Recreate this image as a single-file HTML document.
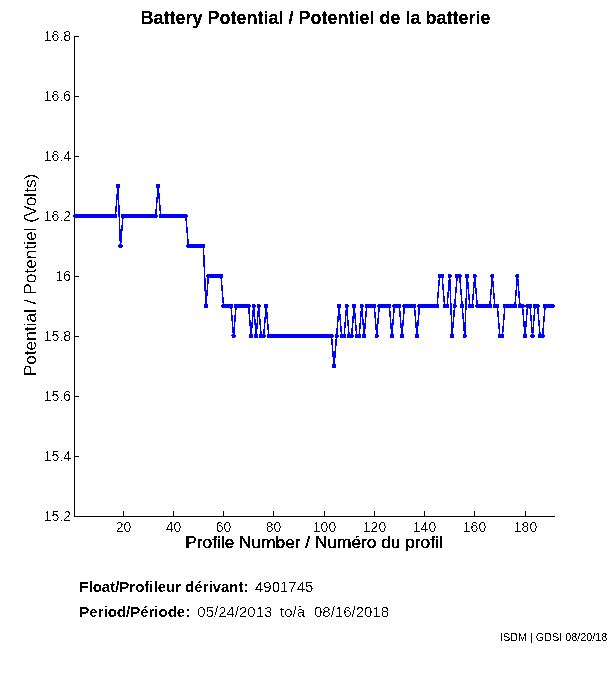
<!DOCTYPE html>
<html><head><meta charset="utf-8"><title>Battery Potential</title>
<style>
html,body{margin:0;padding:0;background:#fff;}
body{width:611px;height:675px;overflow:hidden;}
svg{display:block;will-change:transform;}
text{font-family:"Liberation Sans",sans-serif;fill:#000;}
.t{font-size:18px;font-weight:bold;}
.tk{font-size:14px;}
.lb{font-size:17.3px;}
.ft{font-size:15px;}
.ftb{font-size:15px;font-weight:bold;}
.sm{font-size:10.8px;}
</style></head>
<body>
<svg width="611" height="675" viewBox="0 0 611 675">
<defs><filter id="cr" x="-800" y="-800" width="2400" height="2400" filterUnits="userSpaceOnUse"><feComponentTransfer><feFuncA type="discrete" tableValues="0 1"/></feComponentTransfer></filter><filter id="cl" x="-800" y="-800" width="2400" height="2400" filterUnits="userSpaceOnUse"><feComponentTransfer><feFuncA type="discrete" tableValues="0 1 1 1"/></feComponentTransfer></filter><filter id="ck" x="-800" y="-800" width="2400" height="2400" filterUnits="userSpaceOnUse"><feComponentTransfer><feFuncA type="discrete" tableValues="0 0 0 1 1"/></feComponentTransfer></filter><filter id="ct" x="-800" y="-800" width="2400" height="2400" filterUnits="userSpaceOnUse"><feComponentTransfer><feFuncA type="discrete" tableValues="0 1 1"/></feComponentTransfer></filter></defs>
<rect x="0" y="0" width="611" height="675" fill="#fff"/>
<text filter="url(#ct)" class="t" x="315.5" y="24" text-anchor="middle">Battery Potential / Potentiel de la batterie</text>
<g fill="#000" shape-rendering="crispEdges">
<rect x="74" y="36" width="1" height="481"/>
<rect x="74" y="516" width="481" height="1"/>
<rect x="75" y="36" width="4" height="1"/><rect x="75" y="96" width="4" height="1"/><rect x="75" y="156" width="4" height="1"/><rect x="75" y="216" width="4" height="1"/><rect x="75" y="276" width="4" height="1"/><rect x="75" y="336" width="4" height="1"/><rect x="75" y="396" width="4" height="1"/><rect x="75" y="456" width="4" height="1"/><rect x="75" y="516" width="4" height="1"/><rect x="123" y="511" width="1" height="5"/><rect x="173" y="511" width="1" height="5"/><rect x="223" y="511" width="1" height="5"/><rect x="273" y="511" width="1" height="5"/><rect x="324" y="511" width="1" height="5"/><rect x="374" y="511" width="1" height="5"/><rect x="424" y="511" width="1" height="5"/><rect x="474" y="511" width="1" height="5"/><rect x="525" y="511" width="1" height="5"/>
</g>
<g class="tk"><text filter="url(#ck)" x="71" y="41" text-anchor="end">16.8</text><text filter="url(#ck)" x="71" y="101" text-anchor="end">16.6</text><text filter="url(#ck)" x="71" y="161" text-anchor="end">16.4</text><text filter="url(#ck)" x="71" y="221" text-anchor="end">16.2</text><text filter="url(#ck)" x="71" y="281" text-anchor="end">16</text><text filter="url(#ck)" x="71" y="341" text-anchor="end">15.8</text><text filter="url(#ck)" x="71" y="401" text-anchor="end">15.6</text><text filter="url(#ck)" x="71" y="461" text-anchor="end">15.4</text><text filter="url(#ck)" x="71" y="521" text-anchor="end">15.2</text><text filter="url(#ck)" x="123.5" y="532" text-anchor="middle">20</text><text filter="url(#ck)" x="173.5" y="532" text-anchor="middle">40</text><text filter="url(#ck)" x="223.5" y="532" text-anchor="middle">60</text><text filter="url(#ck)" x="273.5" y="532" text-anchor="middle">80</text><text filter="url(#ck)" x="324.5" y="532" text-anchor="middle">100</text><text filter="url(#ck)" x="374.5" y="532" text-anchor="middle">120</text><text filter="url(#ck)" x="424.5" y="532" text-anchor="middle">140</text><text filter="url(#ck)" x="474.5" y="532" text-anchor="middle">160</text><text filter="url(#ck)" x="525.5" y="532" text-anchor="middle">180</text></g>
<g shape-rendering="crispEdges">
<polyline points="75.26,216.0 77.78,216.0 80.29,216.0 82.80,216.0 85.31,216.0 87.83,216.0 90.34,216.0 92.85,216.0 95.36,216.0 97.88,216.0 100.39,216.0 102.90,216.0 105.41,216.0 107.93,216.0 110.44,216.0 112.95,216.0 115.46,216.0 117.97,186.0 120.49,246.0 123.00,216.0 125.51,216.0 128.03,216.0 130.54,216.0 133.05,216.0 135.56,216.0 138.07,216.0 140.59,216.0 143.10,216.0 145.61,216.0 148.12,216.0 150.64,216.0 153.15,216.0 155.66,216.0 158.18,186.0 160.69,216.0 163.20,216.0 165.71,216.0 168.23,216.0 170.74,216.0 173.25,216.0 175.76,216.0 178.28,216.0 180.79,216.0 183.30,216.0 185.81,216.0 188.32,246.0 190.84,246.0 193.35,246.0 195.86,246.0 198.38,246.0 200.89,246.0 203.40,246.0 205.91,306.0 208.43,276.0 210.94,276.0 213.45,276.0 215.96,276.0 218.48,276.0 220.99,276.0 223.50,306.0 226.01,306.0 228.53,306.0 231.04,306.0 233.55,336.0 236.06,306.0 238.58,306.0 241.09,306.0 243.60,306.0 246.11,306.0 248.62,306.0 251.14,336.0 253.65,306.0 256.16,336.0 258.68,306.0 261.19,336.0 263.70,336.0 266.21,306.0 268.73,336.0 271.24,336.0 273.75,336.0 276.26,336.0 278.77,336.0 281.29,336.0 283.80,336.0 286.31,336.0 288.83,336.0 291.34,336.0 293.85,336.0 296.36,336.0 298.88,336.0 301.39,336.0 303.90,336.0 306.41,336.0 308.93,336.0 311.44,336.0 313.95,336.0 316.46,336.0 318.98,336.0 321.49,336.0 324.00,336.0 326.51,336.0 329.03,336.0 331.54,336.0 334.05,366.0 336.56,336.0 339.08,306.0 341.59,336.0 344.10,336.0 346.61,306.0 349.12,336.0 351.64,336.0 354.15,306.0 356.66,336.0 359.18,336.0 361.69,306.0 364.20,336.0 366.71,306.0 369.23,306.0 371.74,306.0 374.25,306.0 376.76,336.0 379.28,306.0 381.79,306.0 384.30,306.0 386.81,306.0 389.33,306.0 391.84,336.0 394.35,306.0 396.86,306.0 399.38,306.0 401.89,336.0 404.40,306.0 406.91,306.0 409.43,306.0 411.94,306.0 414.45,306.0 416.96,336.0 419.48,306.0 421.99,306.0 424.50,306.0 427.01,306.0 429.53,306.0 432.04,306.0 434.55,306.0 437.06,306.0 439.58,276.0 442.09,276.0 444.60,306.0 447.11,306.0 449.62,276.0 452.14,336.0 454.65,306.0 457.16,276.0 459.68,276.0 462.19,306.0 464.70,336.0 467.21,276.0 469.73,306.0 472.24,306.0 474.75,276.0 477.26,306.0 479.78,306.0 482.29,306.0 484.80,306.0 487.31,306.0 489.83,306.0 492.34,276.0 494.85,306.0 497.36,306.0 499.88,336.0 502.39,336.0 504.90,306.0 507.41,306.0 509.93,306.0 512.44,306.0 514.95,306.0 517.46,276.0 519.98,306.0 522.49,306.0 525.00,336.0 527.51,306.0 530.03,306.0 532.54,336.0 535.05,306.0 537.56,306.0 540.08,336.0 542.59,336.0 545.10,306.0 547.61,306.0 550.12,306.0 552.64,306.0" fill="none" stroke="#0000ff" stroke-width="1.5" stroke-linejoin="miter"/>
<g fill="#0000ff"><circle cx="75.26" cy="216.0" r="2.2"/><circle cx="77.78" cy="216.0" r="2.2"/><circle cx="80.29" cy="216.0" r="2.2"/><circle cx="82.80" cy="216.0" r="2.2"/><circle cx="85.31" cy="216.0" r="2.2"/><circle cx="87.83" cy="216.0" r="2.2"/><circle cx="90.34" cy="216.0" r="2.2"/><circle cx="92.85" cy="216.0" r="2.2"/><circle cx="95.36" cy="216.0" r="2.2"/><circle cx="97.88" cy="216.0" r="2.2"/><circle cx="100.39" cy="216.0" r="2.2"/><circle cx="102.90" cy="216.0" r="2.2"/><circle cx="105.41" cy="216.0" r="2.2"/><circle cx="107.93" cy="216.0" r="2.2"/><circle cx="110.44" cy="216.0" r="2.2"/><circle cx="112.95" cy="216.0" r="2.2"/><circle cx="115.46" cy="216.0" r="2.2"/><circle cx="117.97" cy="186.0" r="2.2"/><circle cx="120.49" cy="246.0" r="2.2"/><circle cx="123.00" cy="216.0" r="2.2"/><circle cx="125.51" cy="216.0" r="2.2"/><circle cx="128.03" cy="216.0" r="2.2"/><circle cx="130.54" cy="216.0" r="2.2"/><circle cx="133.05" cy="216.0" r="2.2"/><circle cx="135.56" cy="216.0" r="2.2"/><circle cx="138.07" cy="216.0" r="2.2"/><circle cx="140.59" cy="216.0" r="2.2"/><circle cx="143.10" cy="216.0" r="2.2"/><circle cx="145.61" cy="216.0" r="2.2"/><circle cx="148.12" cy="216.0" r="2.2"/><circle cx="150.64" cy="216.0" r="2.2"/><circle cx="153.15" cy="216.0" r="2.2"/><circle cx="155.66" cy="216.0" r="2.2"/><circle cx="158.18" cy="186.0" r="2.2"/><circle cx="160.69" cy="216.0" r="2.2"/><circle cx="163.20" cy="216.0" r="2.2"/><circle cx="165.71" cy="216.0" r="2.2"/><circle cx="168.23" cy="216.0" r="2.2"/><circle cx="170.74" cy="216.0" r="2.2"/><circle cx="173.25" cy="216.0" r="2.2"/><circle cx="175.76" cy="216.0" r="2.2"/><circle cx="178.28" cy="216.0" r="2.2"/><circle cx="180.79" cy="216.0" r="2.2"/><circle cx="183.30" cy="216.0" r="2.2"/><circle cx="185.81" cy="216.0" r="2.2"/><circle cx="188.32" cy="246.0" r="2.2"/><circle cx="190.84" cy="246.0" r="2.2"/><circle cx="193.35" cy="246.0" r="2.2"/><circle cx="195.86" cy="246.0" r="2.2"/><circle cx="198.38" cy="246.0" r="2.2"/><circle cx="200.89" cy="246.0" r="2.2"/><circle cx="203.40" cy="246.0" r="2.2"/><circle cx="205.91" cy="306.0" r="2.2"/><circle cx="208.43" cy="276.0" r="2.2"/><circle cx="210.94" cy="276.0" r="2.2"/><circle cx="213.45" cy="276.0" r="2.2"/><circle cx="215.96" cy="276.0" r="2.2"/><circle cx="218.48" cy="276.0" r="2.2"/><circle cx="220.99" cy="276.0" r="2.2"/><circle cx="223.50" cy="306.0" r="2.2"/><circle cx="226.01" cy="306.0" r="2.2"/><circle cx="228.53" cy="306.0" r="2.2"/><circle cx="231.04" cy="306.0" r="2.2"/><circle cx="233.55" cy="336.0" r="2.2"/><circle cx="236.06" cy="306.0" r="2.2"/><circle cx="238.58" cy="306.0" r="2.2"/><circle cx="241.09" cy="306.0" r="2.2"/><circle cx="243.60" cy="306.0" r="2.2"/><circle cx="246.11" cy="306.0" r="2.2"/><circle cx="248.62" cy="306.0" r="2.2"/><circle cx="251.14" cy="336.0" r="2.2"/><circle cx="253.65" cy="306.0" r="2.2"/><circle cx="256.16" cy="336.0" r="2.2"/><circle cx="258.68" cy="306.0" r="2.2"/><circle cx="261.19" cy="336.0" r="2.2"/><circle cx="263.70" cy="336.0" r="2.2"/><circle cx="266.21" cy="306.0" r="2.2"/><circle cx="268.73" cy="336.0" r="2.2"/><circle cx="271.24" cy="336.0" r="2.2"/><circle cx="273.75" cy="336.0" r="2.2"/><circle cx="276.26" cy="336.0" r="2.2"/><circle cx="278.77" cy="336.0" r="2.2"/><circle cx="281.29" cy="336.0" r="2.2"/><circle cx="283.80" cy="336.0" r="2.2"/><circle cx="286.31" cy="336.0" r="2.2"/><circle cx="288.83" cy="336.0" r="2.2"/><circle cx="291.34" cy="336.0" r="2.2"/><circle cx="293.85" cy="336.0" r="2.2"/><circle cx="296.36" cy="336.0" r="2.2"/><circle cx="298.88" cy="336.0" r="2.2"/><circle cx="301.39" cy="336.0" r="2.2"/><circle cx="303.90" cy="336.0" r="2.2"/><circle cx="306.41" cy="336.0" r="2.2"/><circle cx="308.93" cy="336.0" r="2.2"/><circle cx="311.44" cy="336.0" r="2.2"/><circle cx="313.95" cy="336.0" r="2.2"/><circle cx="316.46" cy="336.0" r="2.2"/><circle cx="318.98" cy="336.0" r="2.2"/><circle cx="321.49" cy="336.0" r="2.2"/><circle cx="324.00" cy="336.0" r="2.2"/><circle cx="326.51" cy="336.0" r="2.2"/><circle cx="329.03" cy="336.0" r="2.2"/><circle cx="331.54" cy="336.0" r="2.2"/><circle cx="334.05" cy="366.0" r="2.2"/><circle cx="336.56" cy="336.0" r="2.2"/><circle cx="339.08" cy="306.0" r="2.2"/><circle cx="341.59" cy="336.0" r="2.2"/><circle cx="344.10" cy="336.0" r="2.2"/><circle cx="346.61" cy="306.0" r="2.2"/><circle cx="349.12" cy="336.0" r="2.2"/><circle cx="351.64" cy="336.0" r="2.2"/><circle cx="354.15" cy="306.0" r="2.2"/><circle cx="356.66" cy="336.0" r="2.2"/><circle cx="359.18" cy="336.0" r="2.2"/><circle cx="361.69" cy="306.0" r="2.2"/><circle cx="364.20" cy="336.0" r="2.2"/><circle cx="366.71" cy="306.0" r="2.2"/><circle cx="369.23" cy="306.0" r="2.2"/><circle cx="371.74" cy="306.0" r="2.2"/><circle cx="374.25" cy="306.0" r="2.2"/><circle cx="376.76" cy="336.0" r="2.2"/><circle cx="379.28" cy="306.0" r="2.2"/><circle cx="381.79" cy="306.0" r="2.2"/><circle cx="384.30" cy="306.0" r="2.2"/><circle cx="386.81" cy="306.0" r="2.2"/><circle cx="389.33" cy="306.0" r="2.2"/><circle cx="391.84" cy="336.0" r="2.2"/><circle cx="394.35" cy="306.0" r="2.2"/><circle cx="396.86" cy="306.0" r="2.2"/><circle cx="399.38" cy="306.0" r="2.2"/><circle cx="401.89" cy="336.0" r="2.2"/><circle cx="404.40" cy="306.0" r="2.2"/><circle cx="406.91" cy="306.0" r="2.2"/><circle cx="409.43" cy="306.0" r="2.2"/><circle cx="411.94" cy="306.0" r="2.2"/><circle cx="414.45" cy="306.0" r="2.2"/><circle cx="416.96" cy="336.0" r="2.2"/><circle cx="419.48" cy="306.0" r="2.2"/><circle cx="421.99" cy="306.0" r="2.2"/><circle cx="424.50" cy="306.0" r="2.2"/><circle cx="427.01" cy="306.0" r="2.2"/><circle cx="429.53" cy="306.0" r="2.2"/><circle cx="432.04" cy="306.0" r="2.2"/><circle cx="434.55" cy="306.0" r="2.2"/><circle cx="437.06" cy="306.0" r="2.2"/><circle cx="439.58" cy="276.0" r="2.2"/><circle cx="442.09" cy="276.0" r="2.2"/><circle cx="444.60" cy="306.0" r="2.2"/><circle cx="447.11" cy="306.0" r="2.2"/><circle cx="449.62" cy="276.0" r="2.2"/><circle cx="452.14" cy="336.0" r="2.2"/><circle cx="454.65" cy="306.0" r="2.2"/><circle cx="457.16" cy="276.0" r="2.2"/><circle cx="459.68" cy="276.0" r="2.2"/><circle cx="462.19" cy="306.0" r="2.2"/><circle cx="464.70" cy="336.0" r="2.2"/><circle cx="467.21" cy="276.0" r="2.2"/><circle cx="469.73" cy="306.0" r="2.2"/><circle cx="472.24" cy="306.0" r="2.2"/><circle cx="474.75" cy="276.0" r="2.2"/><circle cx="477.26" cy="306.0" r="2.2"/><circle cx="479.78" cy="306.0" r="2.2"/><circle cx="482.29" cy="306.0" r="2.2"/><circle cx="484.80" cy="306.0" r="2.2"/><circle cx="487.31" cy="306.0" r="2.2"/><circle cx="489.83" cy="306.0" r="2.2"/><circle cx="492.34" cy="276.0" r="2.2"/><circle cx="494.85" cy="306.0" r="2.2"/><circle cx="497.36" cy="306.0" r="2.2"/><circle cx="499.88" cy="336.0" r="2.2"/><circle cx="502.39" cy="336.0" r="2.2"/><circle cx="504.90" cy="306.0" r="2.2"/><circle cx="507.41" cy="306.0" r="2.2"/><circle cx="509.93" cy="306.0" r="2.2"/><circle cx="512.44" cy="306.0" r="2.2"/><circle cx="514.95" cy="306.0" r="2.2"/><circle cx="517.46" cy="276.0" r="2.2"/><circle cx="519.98" cy="306.0" r="2.2"/><circle cx="522.49" cy="306.0" r="2.2"/><circle cx="525.00" cy="336.0" r="2.2"/><circle cx="527.51" cy="306.0" r="2.2"/><circle cx="530.03" cy="306.0" r="2.2"/><circle cx="532.54" cy="336.0" r="2.2"/><circle cx="535.05" cy="306.0" r="2.2"/><circle cx="537.56" cy="306.0" r="2.2"/><circle cx="540.08" cy="336.0" r="2.2"/><circle cx="542.59" cy="336.0" r="2.2"/><circle cx="545.10" cy="306.0" r="2.2"/><circle cx="547.61" cy="306.0" r="2.2"/><circle cx="550.12" cy="306.0" r="2.2"/><circle cx="552.64" cy="306.0" r="2.2"/></g>
</g>
<text filter="url(#cl)" class="lb" x="314" y="548" text-anchor="middle">Profile Number / Numéro du profil</text>
<text filter="url(#cr)" class="lb" transform="translate(36,275) rotate(-90)" x="0" y="0" text-anchor="middle">Potential / Potentiel (Volts)</text>
<text filter="url(#cr)" class="ftb" x="79.3" y="592">Float/Profileur dérivant:</text>
<text filter="url(#ck)" class="ft" x="255" y="592">4901745</text>
<text filter="url(#cr)" class="ftb" x="79.3" y="617">Period/Période:</text>
<text filter="url(#ck)" class="ft" x="197.3" y="617">05/24/2013</text>
<text filter="url(#ck)" class="ft" x="280" y="617">to/à</text>
<text filter="url(#ck)" class="ft" x="314" y="617">08/16/2018</text>
<text filter="url(#cr)" class="sm" x="500" y="641">ISDM | GDSI 08/20/18</text>
</svg>
</body></html>
